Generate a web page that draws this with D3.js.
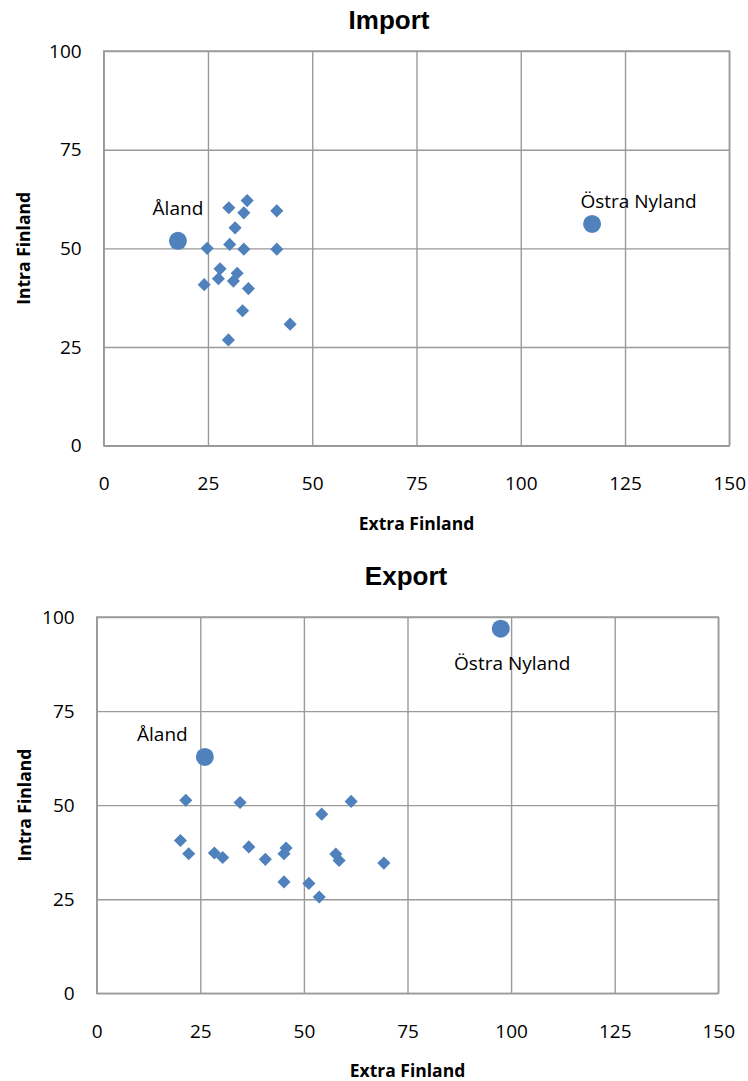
<!DOCTYPE html>
<html>
<head>
<meta charset="utf-8">
<script src="https://cdn.jsdelivr.net/npm/d3@7"></script>
<style>
  html, body { margin: 0; padding: 0; background: #fff; }
  svg { display: block; }
</style>
</head>
<body>
<svg id="chart" width="748" height="1081"></svg>
<script>
// ---------- DATA ----------
const xTicks = [0, 25, 50, 75, 100, 125, 150];
const yTicks = [0, 25, 50, 75, 100];

// Import chart
const importRegionX = [34.4, 30.0, 33.6, 41.5, 31.5, 24.8, 30.2, 33.6, 41.5, 27.9, 32.0, 27.5, 31.1, 24.1, 34.7, 33.3, 44.7, 29.9];
const importRegionY = [62.1, 60.3, 59.0, 59.5, 55.2, 50.0, 51.0, 49.8, 49.8, 44.8, 43.7, 42.3, 41.7, 40.8, 39.8, 34.2, 30.8, 26.8];
const importHighlightNames = ["Åland", "Östra Nyland"];
const importHighlightX = [17.8, 117.1];
const importHighlightY = [51.9, 56.2];

// Export chart
const exportRegionX = [21.5, 34.6, 61.4, 54.3, 20.2, 22.2, 28.4, 30.4, 36.7, 40.7, 45.7, 45.2, 57.7, 58.5, 69.3, 45.2, 51.2, 53.7];
const exportRegionY = [51.3, 50.7, 51.0, 47.6, 40.6, 37.1, 37.3, 36.1, 38.9, 35.6, 38.6, 37.1, 37.0, 35.3, 34.6, 29.6, 29.2, 25.6];
const exportHighlightNames = ["Åland", "Östra Nyland"];
const exportHighlightX = [26.1, 97.5];
const exportHighlightY = [62.8, 96.9];

// ---------- LAYOUT / STYLE ----------
const BLUE = "#4F81BD";
const GRID = "#9a9a9a";
const svg = d3.select("#chart");
svg.append("rect").attr("width", 748).attr("height", 1081).attr("fill", "#fff");

function drawChart(cfg) {
  const { left, right, top, bottom, title, titleX, titleY,
          xs, ys, hx, hy, hnames, labelOffsets, yTitleX, xTitleY } = cfg;
  const w = right - left, h = bottom - top;
  const x = d3.scaleLinear().domain([0, 150]).range([0, w]);
  const y = d3.scaleLinear().domain([0, 100]).range([h, 0]);
  const g = svg.append("g").attr("transform", `translate(${left},${top})`);

  // grid + y axis
  const ya = g.append("g").call(
    d3.axisLeft(y).tickValues(yTicks).tickSize(-w).tickPadding(22).tickFormat(d3.format("d"))
  );
  const xa = g.append("g").attr("transform", `translate(0,${h})`).call(
    d3.axisBottom(x).tickValues(xTicks).tickSize(-h).tickPadding(31).tickFormat(d3.format("d"))
  );
  [ya, xa].forEach(a => {
    a.select(".domain").remove();
    a.selectAll(".tick line").attr("stroke", GRID).attr("stroke-width", 1.4);
    a.selectAll(".tick text")
      .attr("fill", "#000")
      .style("font-family", "'Open Sans', sans-serif")
      .style("font-size", "19px");
  });
  g.append("rect").attr("x", 0).attr("y", 0).attr("width", w).attr("height", h)
    .attr("fill", "none").attr("stroke", GRID).attr("stroke-width", 1.4);

  // diamonds
  const diamond = d3.symbol().type(d3.symbolSquare).size(86);
  g.selectAll("path.pt").data(xs.map((v, i) => [v, ys[i]])).join("path")
    .attr("class", "pt")
    .attr("d", diamond)
    .attr("transform", d => `translate(${x(d[0])},${y(d[1])}) rotate(45)`)
    .attr("fill", BLUE);

  // highlighted circles
  const hd = hx.map((v, i) => ({ x: v, y: hy[i], name: hnames[i], off: labelOffsets[i] }));
  g.selectAll("circle.hl").data(hd).join("circle")
    .attr("class", "hl")
    .attr("cx", d => x(d.x)).attr("cy", d => y(d.y)).attr("r", 9)
    .attr("fill", BLUE);
  g.selectAll("text.hl").data(hd).join("text")
    .attr("class", "hl")
    .attr("x", d => x(d.x) + d.off[0]).attr("y", d => y(d.y) + d.off[1])
    .attr("text-anchor", "middle")
    .style("font-family", "'Open Sans', sans-serif")
    .style("font-size", "19px")
    .attr("fill", "#000")
    .text(d => d.name);

  // title
  svg.append("text").attr("x", titleX).attr("y", titleY)
    .attr("text-anchor", "middle")
    .style("font-family", "'Liberation Sans', Arial, sans-serif")
    .style("font-weight", "bold").style("font-size", "26px")
    .text(title);

  // axis titles
  svg.append("text").attr("x", left + w / 2).attr("y", xTitleY)
    .attr("text-anchor", "middle")
    .style("font-family", "'Open Sans', sans-serif")
    .style("font-weight", "bold").style("font-size", "17.5px")
    .text("Extra Finland");
  svg.append("text")
    .attr("transform", `translate(${yTitleX},${top + h / 2}) rotate(-90)`)
    .attr("text-anchor", "middle")
    .style("font-family", "'Open Sans', sans-serif")
    .style("font-weight", "bold").style("font-size", "17.5px")
    .text("Intra Finland");
}

drawChart({
  left: 103.7, right: 729.3, top: 51, bottom: 445.7,
  title: "Import", titleX: 389, titleY: 29,
  xs: importRegionX, ys: importRegionY,
  hx: importHighlightX, hy: importHighlightY, hnames: importHighlightNames,
  labelOffsets: [[0, -25.5], [46.5, -16]],
  yTitleX: 29.5, xTitleY: 530
});

drawChart({
  left: 96.7, right: 718.3, top: 617, bottom: 993.3,
  title: "Export", titleX: 406, titleY: 585,
  xs: exportRegionX, ys: exportRegionY,
  hx: exportHighlightX, hy: exportHighlightY, hnames: exportHighlightNames,
  labelOffsets: [[-42.5, -16], [11.5, 41.5]],
  yTitleX: 31, xTitleY: 1077
});
</script>
</body>
</html>
